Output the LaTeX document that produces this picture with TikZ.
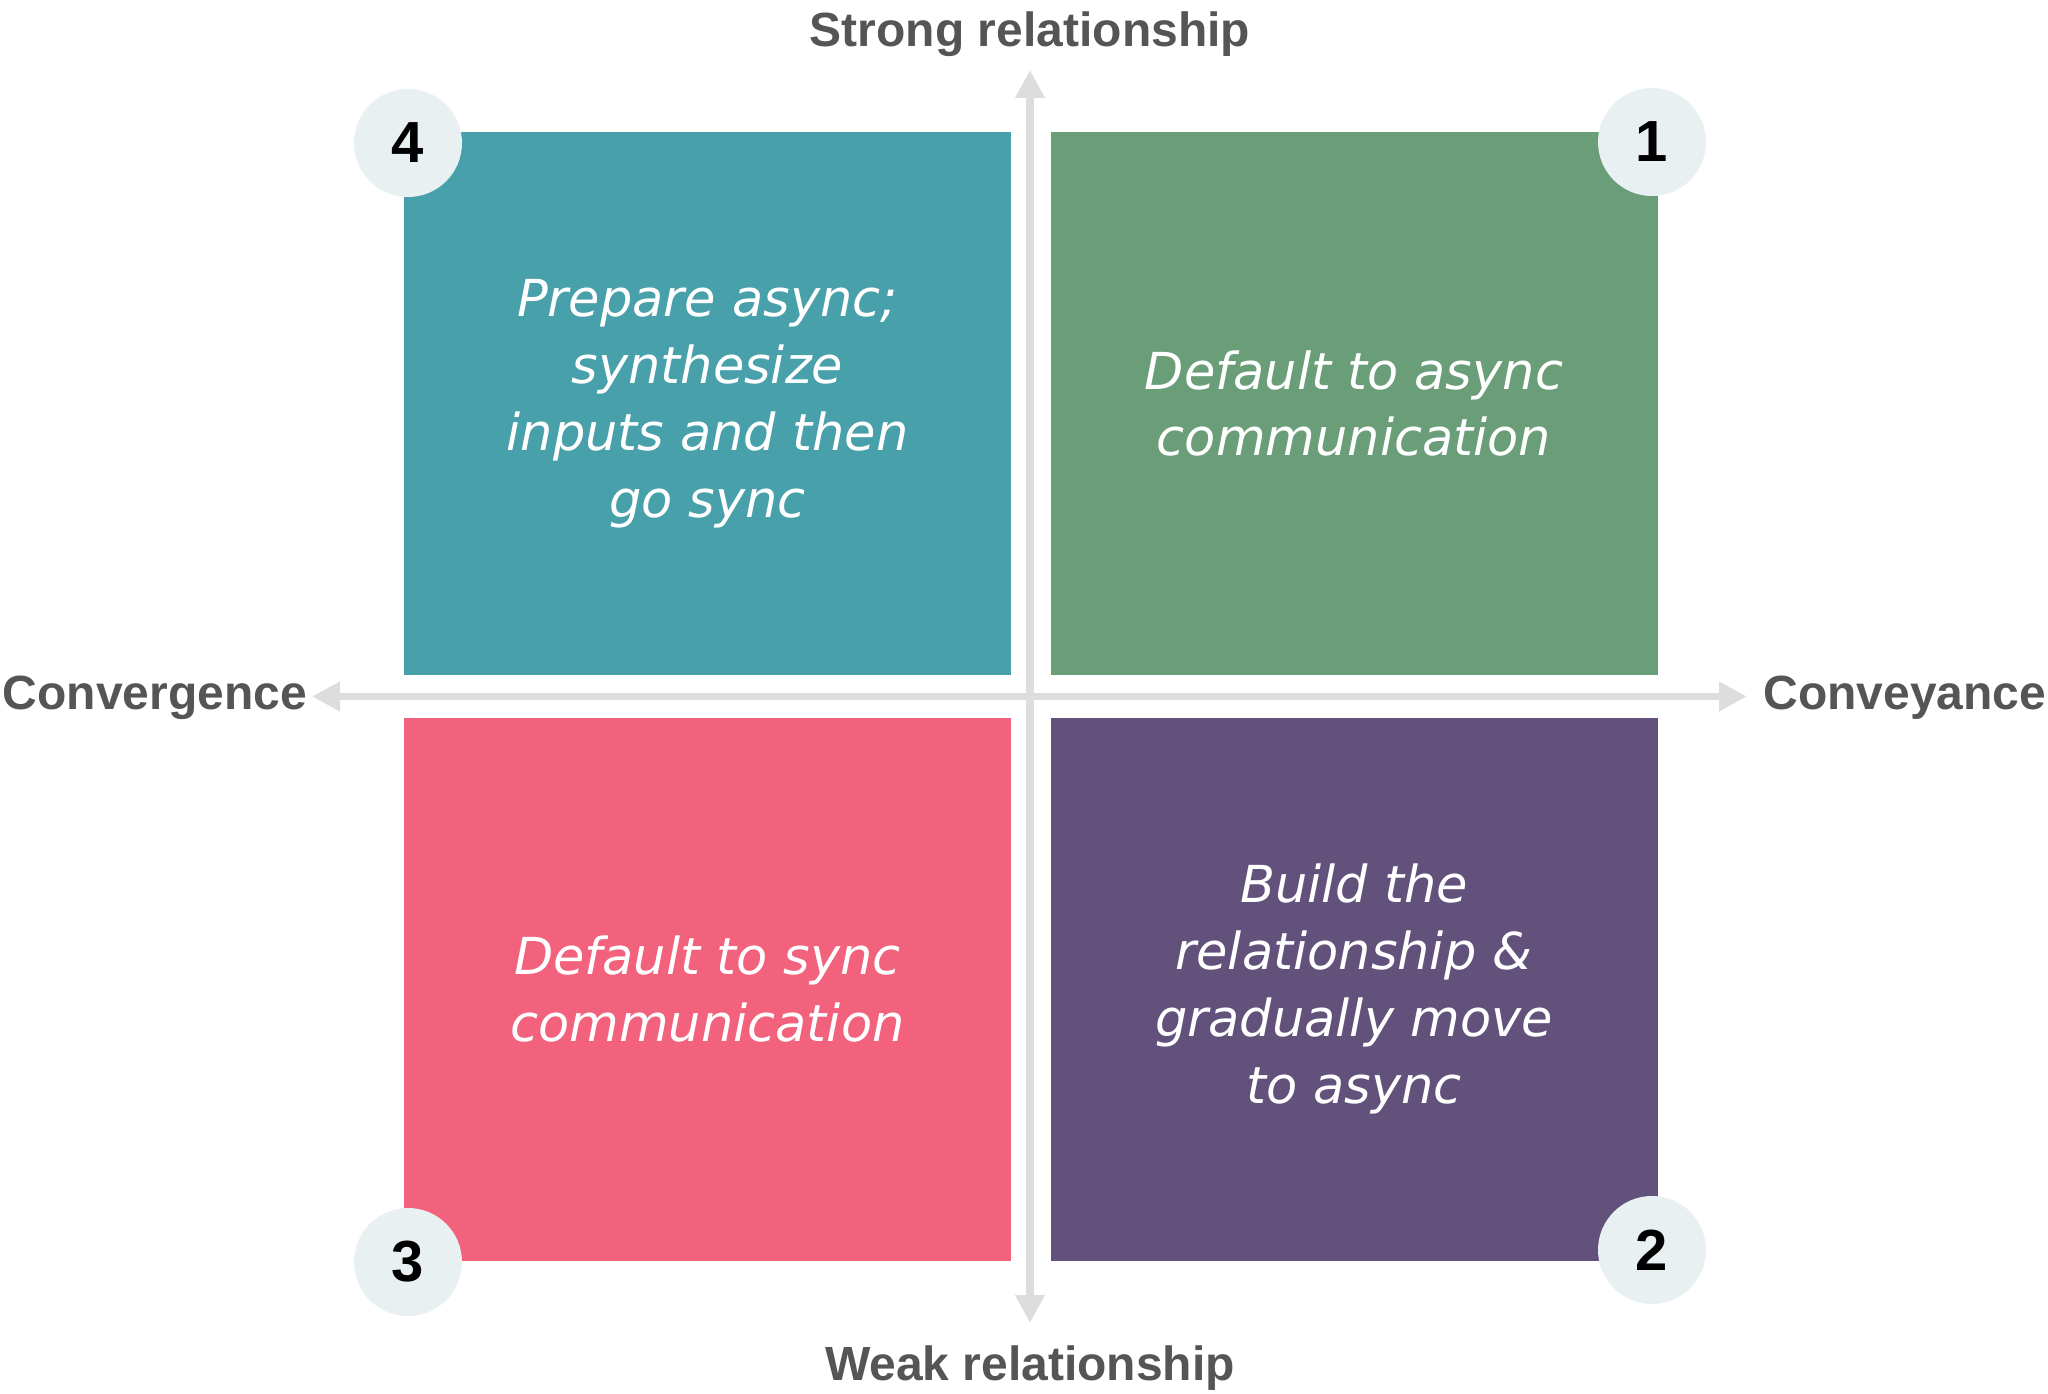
\documentclass[tikz,border=0pt]{standalone}
\usepackage{fontspec}
\setmainfont{Liberation Sans}
\newfontfamily\quadfont{DejaVu Sans}
\usetikzlibrary{arrows.meta}

\definecolor{tealbox}{RGB}{72,160,170}
\definecolor{greenbox}{RGB}{106,158,121}
\definecolor{pinkbox}{RGB}{242,98,124}
\definecolor{purplebox}{RGB}{98,81,123}
\definecolor{badgegray}{RGB}{233,240,242}
\definecolor{axisgray}{RGB}{221,221,221}
\definecolor{labelgray}{RGB}{85,85,85}

\tikzset{
    quadrant/.style={minimum width=6.07cm, minimum height=5.43cm, inner sep=0pt, text=white, align=center,
        font=\quadfont\itshape\fontsize{14.5}{19.06}\selectfont},
    badge/.style={circle, fill=badgegray, minimum size=1.08cm, inner sep=0pt,
        font=\bfseries\fontsize{16.5}{18}\selectfont},
    axislabel/.style={text=labelgray, inner sep=0pt, font=\bfseries\fontsize{13.66}{16}\selectfont},
    axisline/.style={axisgray, line width=2pt,
        {Triangle[length=0.28cm,width=0.28cm]}-{Triangle[length=0.28cm,width=0.28cm]}},
}

\begin{document}
\begin{tikzpicture}[scale=1]
        \useasboundingbox (0,0) rectangle (20.48,13.93);

        \coordinate (W) at (3.12, 6.965);
        \coordinate (E) at (17.47, 6.965);
        \coordinate (N) at (10.30, 13.23);
        \coordinate (S) at (10.30, 0.70);

        % Axes
        \draw[axisline] (W) -- (E);
        \draw[axisline] (S) -- (N);

        % Axis labels
        \node[axislabel, anchor=base] (strong) at (10.30, 13.46) {Strong relationship};
        \node[axislabel, anchor=base] (weak) at (10.30, 0.13) {Weak relationship};
        \node[axislabel, anchor=base west] (conv) at (0.02, 6.84) {Convergence};
        \node[axislabel, anchor=base east] (convey) at (20.47, 6.84) {Conveyance};

        % Quadrants
        \node[quadrant, fill=greenbox] (q1) at (13.54, 9.895) {Default to async\\ communication};
        \node[quadrant, fill=purplebox] (q2) at (13.54, 4.04) {Build the\\ relationship \&\\ gradually move\\ to async};
        \node[quadrant, fill=pinkbox] (q3) at (7.075, 4.04) {Default to sync\\ communication};
        \node[quadrant, fill=tealbox] (q4) at (7.075, 9.895) {Prepare async;\\ synthesize\\ inputs and then\\ go sync};

        % Number badges
        \node[badge] (n1) at (16.52, 12.51) {1};
        \node[badge] (n2) at (16.52, 1.43) {2};
        \node[badge] (n3) at (4.08, 1.31) {3};
        \node[badge] (n4) at (4.08, 12.50) {4};

    \end{tikzpicture}
\end{document}
